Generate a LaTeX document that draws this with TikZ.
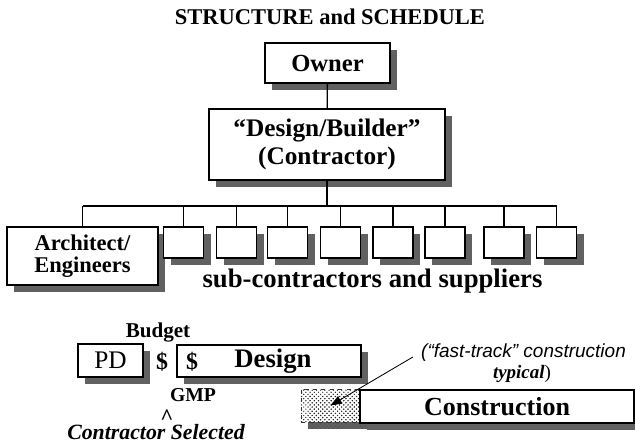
\documentclass[tikz,border=0pt]{standalone}
\usepackage{fontspec}
\setmainfont{Liberation Serif}
\newfontfamily\notefont{Liberation Sans}
\usetikzlibrary{shadows,patterns,arrows.meta}
\newcommand{\sz}[2]{\fontsize{#1}{#2}\selectfont}
\begin{document}
\begin{tikzpicture}[x=0.025cm,y=-0.025cm,
  box/.style={draw,line width=1.1pt,fill=white,inner sep=0pt,align=center,
    drop shadow={shadow xshift=0.175cm,shadow yshift=-0.17cm,fill=black!62,opacity=1}},
  lbl/.style={inner sep=0pt,anchor=base},
  link/.style={line width=0.9pt}]
\useasboundingbox (0,0) rectangle (635,445);
\node[lbl,font=\sz{16}{18}\bfseries] (title) at (330,25) {STRUCTURE and SCHEDULE};
\node[box,minimum width=3.125cm,minimum height=1cm,font=\sz{17.5}{20}\bfseries] (owner) at (327.5,63) {Owner};
\node[box,minimum width=5.9cm,minimum height=1.775cm,font=\sz{18}{20}\bfseries] (db) at (327,144.5) {“Design/Builder”\\(Contractor)};
% org chart row
\node[box,minimum width=3.775cm,minimum height=1.45cm,font=\sz{16}{16}\bfseries] (arch) at (82.5,256) {Architect/\\Engineers};
\foreach \x [count=\i] in {183.5,236.5,287.5,340.5,393,445,504,556.5}
  \node[box,minimum width=1cm,minimum height=0.775cm] (s\i) at (\x,242.5) {};
\coordinate (bus) at (327,206);
\draw[link] (owner) -- (db);
\draw[link] (db.south) -- (db.south |- bus);
\draw[link] (arch.north |- bus) -- (s8.north |- bus);
\foreach \n in {arch,s1,s2,s3,s4,s5,s6,s7,s8} \draw[link] (\n.north) -- (\n.north |- bus);
\node[lbl,font=\sz{19}{20}\bfseries] (subs) at (372.5,287) {sub-contractors and suppliers};
% schedule
\node[lbl,font=\sz{15}{16}\bfseries] (budget) at (158,337) {Budget};
\node[box,minimum width=1.625cm,minimum height=0.825cm,font=\sz{18}{20}] (pd) at (110.5,360.5) {PD};
\node[lbl,font=\sz{17}{18}\bfseries] (dol) at (162,369) {\$};
\node[box,minimum width=4.6cm,minimum height=0.8cm,font=\sz{19}{20}\bfseries] (design) at (269,361) {\hspace{0.2cm}Design};
\node[lbl,font=\sz{17}{18}\bfseries] (dolin) at (192,369) {\$};
\node[lbl,font=\sz{14}{16}\bfseries] (gmp) at (193,401) {GMP};
\node[lbl,font=\sz{16}{16}\bfseries] (caret) at (167,424) {\textasciicircum};
\node[lbl,font=\sz{15.5}{16}\bfseries\itshape] (csel) at (156,439) {Contractor Selected};
\node[box,draw=black!80,line width=0.6pt,dashed,preaction={fill=white},pattern=crosshatch dots,pattern color=black!85,
  minimum width=1.475cm,minimum height=0.825cm,
  drop shadow={shadow xshift=0.175cm,shadow yshift=-0.15cm,pattern=crosshatch dots,pattern color=black!70,opacity=1}] (fast) at (330.5,405.5) {};
\node[box,minimum width=6.85cm,minimum height=0.825cm,font=\sz{18.5}{20}\bfseries] (constr) at (497,406.5) {Construction};
\node[lbl,font=\sz{13.5}{16}\notefont\itshape] (note) at (523.5,357) {(“fast-track” construction};
\node[lbl,font=\sz{13.5}{16}] (note2) at (522,378) {\textbf{\textit{typical}})};
\draw[line width=0.6pt,-{Triangle[length=8pt,width=6pt]}] ([xshift=-0.2cm]note.base west) -- (fast.center);
\end{tikzpicture}
\end{document}
